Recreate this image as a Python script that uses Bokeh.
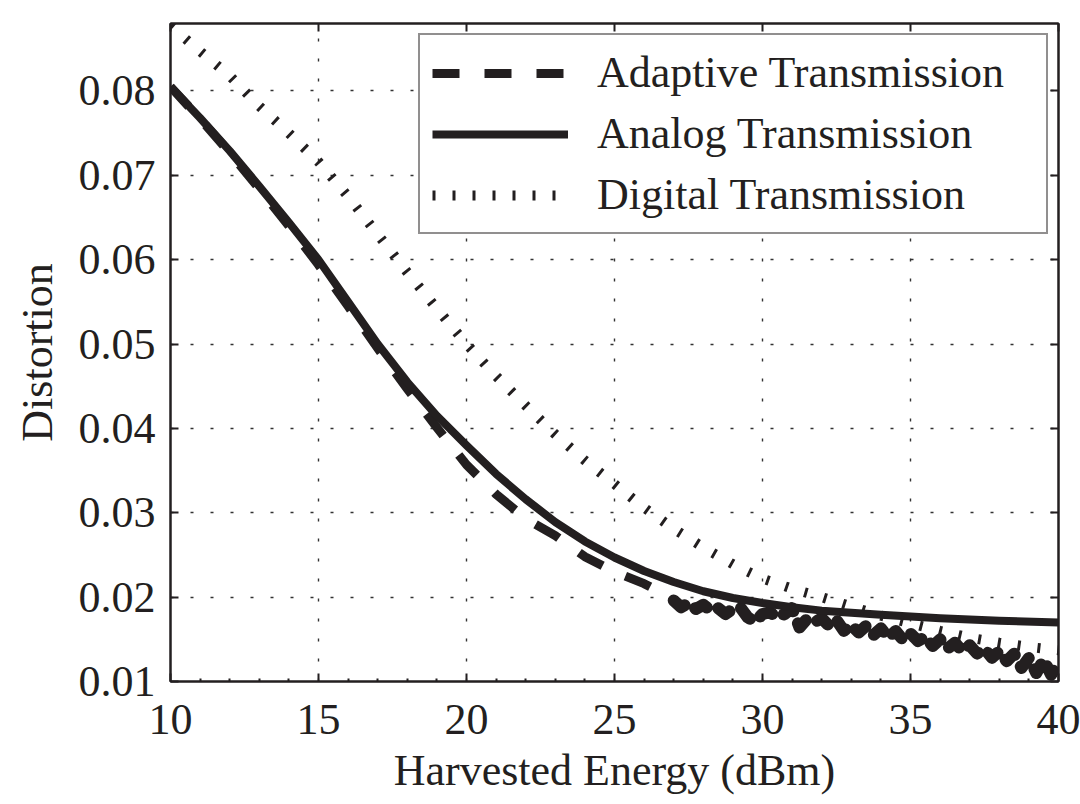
from bokeh.plotting import figure
from bokeh.models import Range1d, LinearAxis, FixedTicker, Legend, LegendItem, PrintfTickFormatter
from bokeh.embed import file_html
from bokeh.resources import INLINE

# ---------------- data ----------------
analog_x = [10, 11, 12, 13, 14, 15, 16, 17, 18, 19, 20, 21, 22, 23, 24, 25, 26, 27, 28, 29,
            30, 31, 32, 34, 36, 38, 40]
analog_y = [0.0805, 0.0768, 0.0729, 0.0687, 0.0644, 0.0600, 0.0550, 0.0500, 0.0455, 0.0415,
            0.0380, 0.0346, 0.0316, 0.0289, 0.0266, 0.0247, 0.0231, 0.0218, 0.0207, 0.0199,
            0.0193, 0.0188, 0.0184, 0.0179, 0.0175, 0.0172, 0.0170]

digital_x = [10, 11, 12, 13, 14, 15, 16, 17, 18, 19, 20, 21, 22, 23, 24, 25, 26, 27, 28, 29,
             30, 31, 32, 33, 34, 35, 36, 37, 38, 39, 40]
digital_y = [0.0877, 0.0847, 0.0818, 0.0782, 0.0750, 0.0716, 0.0675, 0.0630, 0.0585, 0.0542,
             0.0500, 0.0462, 0.0427, 0.0393, 0.0362, 0.0334, 0.0306, 0.0281, 0.0259, 0.0239,
             0.0222, 0.0210, 0.0200, 0.0189, 0.0178, 0.0169, 0.0160, 0.0152, 0.0146, 0.0141,
             0.0137]

adaptive_x = [10, 11, 12, 13, 14, 15, 16, 17, 18, 19, 20, 21, 22, 23, 24, 25, 26, 26.5,
              27.0, 27.25, 27.5, 27.75, 28.0, 28.25, 28.5, 28.75, 29.0, 29.25, 29.5, 29.75,
              30.0, 30.25, 30.5, 30.75, 31.0, 31.25, 31.5, 31.75, 32.0, 32.25, 32.5, 32.75,
              33.0, 33.25, 33.5, 33.75, 34.0, 34.25, 34.5, 34.75, 35.0, 35.25, 35.5, 35.75,
              36.0, 36.25, 36.5, 36.75, 37.0, 37.25, 37.5, 37.75, 38.0, 38.25, 38.5, 38.75,
              39.0, 39.25, 39.5, 39.75, 40.0]
adaptive_y = [0.0805, 0.0767, 0.0727, 0.0684, 0.0640, 0.0594, 0.0545, 0.0495, 0.0447, 0.0401,
              0.0357, 0.0322, 0.0293, 0.0273, 0.0248, 0.0230, 0.0216, 0.0207,
              0.0196, 0.0188, 0.0193, 0.0186, 0.0191, 0.0184, 0.0187, 0.0180, 0.0186, 0.0188,
              0.0176, 0.0171, 0.0180, 0.0182, 0.0176, 0.0180, 0.0187, 0.0164, 0.0174, 0.0170,
              0.0175, 0.0166, 0.0173, 0.0160, 0.0167, 0.0158, 0.0166, 0.0155, 0.0163, 0.0152,
              0.0160, 0.0149, 0.0157, 0.0148, 0.0153, 0.0142, 0.0150, 0.0139, 0.0146, 0.0136,
              0.0143, 0.0133, 0.0139, 0.0128, 0.0136, 0.0124, 0.0133, 0.0116, 0.0128, 0.0110,
              0.0126, 0.0108, 0.0122]
adaptive_noisy_from = 27.0   # x where the adaptive curve becomes jagged

x_ticks = [10, 15, 20, 25, 30, 35, 40]
x_minor = [11, 12, 13, 14, 16, 17, 18, 19, 21, 22, 23, 24, 26, 27, 28, 29, 31, 32, 33, 34,
           36, 37, 38, 39]
y_ticks = [0.01, 0.02, 0.03, 0.04, 0.05, 0.06, 0.07, 0.08]

labels = ["Adaptive Transmission", "Analog Transmission", "Digital Transmission"]
x_label = "Harvested Energy (dBm)"
y_label = "Distortion"

# ---------------- style ----------------
FONT = "Liberation Serif"
FS = "44px"
INK = "#231f20"

p = figure(width=1080, height=804, output_backend="svg", toolbar_location=None,
           x_range=Range1d(10, 40), y_range=Range1d(0.01, 0.088),
           min_border_left=170, min_border_right=22, min_border_top=23, min_border_bottom=123,
           x_axis_location=None, y_axis_location=None)
p.background_fill_color = "white"
p.border_fill_color = "white"
p.outline_line_color = INK
p.outline_line_width = 2

xt = FixedTicker(ticks=x_ticks, minor_ticks=x_minor)
yt = FixedTicker(ticks=y_ticks)

def style_axis(ax, show_labels, minor):
    ax.axis_line_color = INK
    ax.axis_line_width = 2
    ax.major_tick_in = 8
    ax.major_tick_out = 0
    ax.major_tick_line_color = INK
    ax.major_tick_line_width = 2
    ax.minor_tick_in = 3 if minor else 0
    ax.minor_tick_out = 0
    ax.minor_tick_line_color = INK if minor else None
    ax.minor_tick_line_width = 2
    ax.major_label_text_font = FONT
    ax.axis_label_text_font = FONT
    ax.axis_label_text_color = INK
    ax.axis_label_text_font_style = "normal"
    ax.axis_label_text_font_size = FS
    if show_labels:
        ax.major_label_text_font_size = FS
        ax.major_label_text_color = INK
    else:
        ax.major_label_text_font_size = "0px"
        ax.major_label_text_color = None
        ax.major_label_standoff = 0

xb = LinearAxis(ticker=xt, axis_label=x_label)
style_axis(xb, True, True)
xb.major_label_standoff = 23
xb.axis_label_standoff = 9
p.add_layout(xb, "below")

yl = LinearAxis(ticker=yt, axis_label=y_label, formatter=PrintfTickFormatter(format="%.2f"))
style_axis(yl, True, False)
yl.major_label_standoff = 15
yl.axis_label_standoff = 14
p.add_layout(yl, "left")

xa = LinearAxis(ticker=xt)
style_axis(xa, False, False)
p.add_layout(xa, "above")

yr = LinearAxis(ticker=yt)
style_axis(yr, False, False)
p.add_layout(yr, "right")

p.xgrid.ticker = xt
p.ygrid.ticker = yt
for g in (p.xgrid, p.ygrid):
    g.grid_line_color = "#333333"
    g.grid_line_width = 1.4
    g.grid_line_dash = "3 17"

# adaptive: smooth part with long dashes, jagged tail drawn with short blobby dashes
k = adaptive_x.index(adaptive_noisy_from)
r_ad = p.line(adaptive_x[:k + 1], adaptive_y[:k + 1], line_color=INK, line_width=9,
              line_dash="27 25", line_cap="butt", line_join="round")
p.line(adaptive_x[k:], adaptive_y[k:], line_color=INK, line_width=12,
       line_dash="14 13", line_cap="round", line_join="round")
r_an = p.line(analog_x, analog_y, line_color=INK, line_width=8, line_join="round")
r_di = p.line(digital_x, digital_y, line_color=INK, line_width=10, line_dash="3 17",
              line_cap="butt")

legend = Legend(items=[LegendItem(label=labels[0], renderers=[r_ad]),
                       LegendItem(label=labels[1], renderers=[r_an]),
                       LegendItem(label=labels[2], renderers=[r_di])],
                location="top_right")
legend.label_text_font = FONT
legend.label_text_font_size = FS
legend.label_text_color = INK
legend.label_standoff = 29
legend.label_width = 437
legend.glyph_width = 136
legend.glyph_height = 40
legend.spacing = 10
legend.padding = 12
legend.margin = 10
legend.border_line_color = INK
legend.border_line_width = 2
legend.background_fill_color = "white"
legend.background_fill_alpha = 1
p.add_layout(legend, "center")

open("out.html", "w").write(file_html(p, INLINE))
